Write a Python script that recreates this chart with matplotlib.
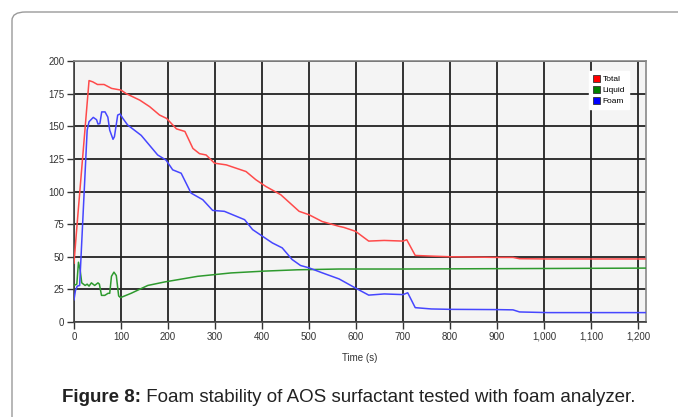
import matplotlib
matplotlib.use("Agg")
import matplotlib.pyplot as plt
from matplotlib.patches import FancyBboxPatch, Patch
from matplotlib.ticker import FuncFormatter

total_t = [0, 5, 32, 40, 50, 64, 80, 100, 111, 140, 161, 182, 197, 218, 236, 253, 267, 281, 299,
           324, 366, 387, 408, 440, 479, 500, 528, 564, 574, 599, 627, 660, 700, 708, 726, 760,
           800, 900, 934, 948, 1008, 1100, 1217]
total_v = [45, 68, 185, 184, 182, 182, 179, 177.7, 175, 170, 165, 158.6, 156, 148, 146, 133, 129,
           128, 121.7, 120.4, 115.3, 109, 103.9, 97.5, 84.8, 82.2, 77, 73.3, 72.5, 69.5, 62, 62.5,
           62, 63, 51, 50.5, 50, 49.5, 49.5, 48.5, 48.3, 48.3, 48.3]

foam_t = [0, 3, 7, 12, 28, 32, 41, 48, 51, 55, 59, 66, 72, 76, 83, 86, 93, 98, 104, 114, 143, 178,
          196, 210, 228, 249, 274, 295, 320, 363, 380, 401, 422, 443, 464, 482, 500, 528, 564,
          599, 627, 660, 700, 710, 726, 760, 800, 900, 934, 948, 1008, 1100, 1217]
foam_v = [17, 24, 27.5, 28, 147, 153.5, 156.8, 155, 151.7, 152, 161, 161, 157, 147, 140, 142,
          158.6, 159.4, 156, 151, 143, 128, 124, 116.6, 114, 98.8, 93.7, 85.5, 84.8, 78.4, 70.8,
          65.7, 60.6, 56.8, 47.9, 43.3, 41.5, 37.7, 33, 26, 20.6, 21.5, 21, 22.4, 11, 10, 9.7,
          9.5, 9.3, 7.7, 7.2, 7.2, 7.2]

liquid_t = [0, 6, 9.5, 13, 16.5, 23.6, 28, 32, 37, 44, 51, 54, 58.5, 65.5, 72.5, 76, 79.7, 85, 90,
            95, 99, 121.6, 157, 193, 263, 334, 405, 475, 564, 700, 1000, 1217]
liquid_v = [28, 29, 45.8, 40, 30, 28, 29, 27.5, 30, 28, 30, 29, 20.4, 20.4, 22, 22, 35, 38.2, 35.6,
            20, 18.7, 22, 28, 30.7, 35, 37.6, 39, 40, 40.6, 40.6, 41, 41.3]

series_names = ["Total", "Liquid", "Foam"]
series_colors = ["#ff4a4a", "#2e9a2e", "#4646ff"]
legend_fill = ["#ff0000", "#008000", "#0000ff"]

x_ticks = [0, 100, 200, 300, 400, 500, 600, 700, 800, 900, 1000, 1100, 1200]
y_ticks = [0, 25, 50, 75, 100, 125, 150, 175, 200]

plt.rcParams['font.family'] = ['Liberation Sans', 'DejaVu Sans']

fig = plt.figure(figsize=(6.78, 4.17), dpi=100)
fig.patch.set_facecolor("white")

# outer rounded frame
frame = FancyBboxPatch((12 / 678, -0.2), 1.2, (417 - 12) / 417 + 0.2,
                       boxstyle="round,pad=0,rounding_size=0.02",
                       transform=fig.transFigure, facecolor="none",
                       edgecolor="#9a9a9a", linewidth=1.0, zorder=0)
fig.patches.append(frame)

ax = fig.add_axes([74 / 678, 1 - 322 / 417, (646 - 74) / 678, (322 - 61) / 417])
ax.set_facecolor("#f4f4f4")

data = [(total_t, total_v), (liquid_t, liquid_v), (foam_t, foam_v)]
for (t, v), c, n in zip(data, series_colors, series_names):
    ax.plot(t, v, color=c, linewidth=1.1, label=n, zorder=3)

ax.set_xlim(0, 1217)
ax.set_ylim(0, 200)
ax.set_xticks(x_ticks)
ax.set_yticks(y_ticks)
ax.xaxis.set_major_formatter(FuncFormatter(lambda v, p: f"{int(v):,}"))
ax.grid(True, color="#222222", linewidth=1.3, zorder=1)
ax.set_axisbelow(True)

for s in ["top", "right"]:
    ax.spines[s].set_color("#888888")
    ax.spines[s].set_linewidth(1.2)
for s in ["left", "bottom"]:
    ax.spines[s].set_color("#444444")
    ax.spines[s].set_linewidth(1.2)

ax.tick_params(axis="both", labelsize=7, colors="#333333", length=5, width=1, pad=2)
ax.set_xlabel("Time (s)", fontsize=7, color="#333333", labelpad=8)

handles = [Patch(facecolor=f, edgecolor="#333333", linewidth=0.6) for f in legend_fill]
leg = ax.legend(handles, series_names, loc="upper right", bbox_to_anchor=(0.977, 0.978),
                fontsize=6, frameon=True, fancybox=False, framealpha=1,
                facecolor="white", edgecolor="white", handlelength=0.9, handleheight=0.9,
                handletextpad=0.25, labelspacing=0.35, borderpad=0.45)
leg.set_zorder(5)

# caption
t1 = fig.text(62 / 678, 1 - 402 / 417, "Figure 8:", fontsize=13.5, fontweight="bold",
              color="#222222", va="baseline", ha="left")
ax.annotate(" Foam stability of AOS surfactant tested with foam analyzer.",
            xy=(1, 0), xycoords=t1, va="bottom", ha="left", fontsize=13.5,
            color="#222222", annotation_clip=False)

fig.savefig("out.png", dpi=100)
